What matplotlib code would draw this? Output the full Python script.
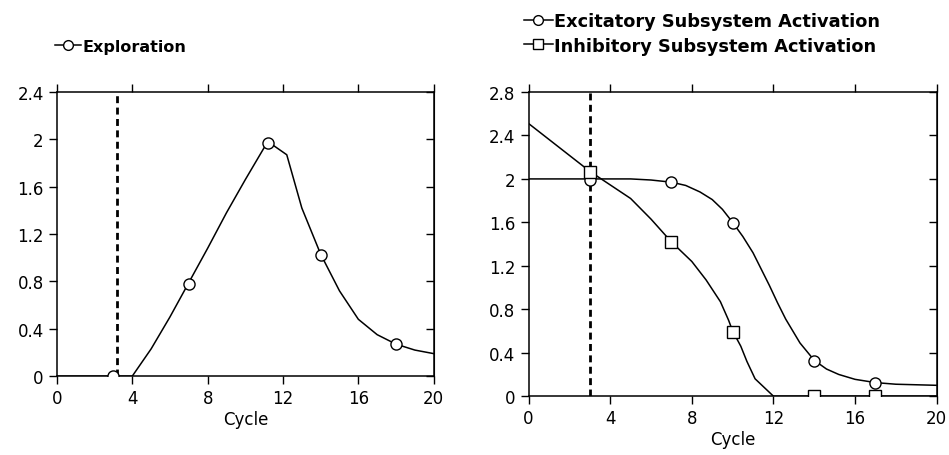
import numpy as np
import matplotlib
matplotlib.use("Agg")
import matplotlib.pyplot as plt
from matplotlib.lines import Line2D

# left panel: exploration
expl_x = [0, 3, 4, 5, 6, 7, 8, 9, 10, 11, 11.3, 12.2, 13, 14, 15, 16, 17, 18, 19, 20]
expl_y = [0, 0, 0, 0.23, 0.5, 0.79, 1.08, 1.38, 1.66, 1.93, 1.97, 1.87, 1.42, 1.03, 0.72, 0.48, 0.35, 0.27, 0.22, 0.19]
expl_mx = [3, 7, 11.2, 14, 18]
expl_my = [0, 0.78, 1.97, 1.02, 0.27]

# right panel: excitatory / inhibitory
exc_x = [0, 3, 5, 6, 7, 7.7, 8.4, 9, 9.5, 10, 10.5, 11, 11.4, 11.8, 12.2, 12.6, 13.3, 14, 14.6, 15.2, 16, 17, 18, 20]
exc_y = [2.0, 2.0, 2.0, 1.99, 1.97, 1.94, 1.88, 1.81, 1.72, 1.6, 1.47, 1.32, 1.17, 1.02, 0.86, 0.71, 0.49, 0.33, 0.25, 0.2, 0.155, 0.125, 0.11, 0.10]
exc_mx = [3, 7, 10, 14, 17]
exc_my = [1.99, 1.97, 1.59, 0.32, 0.125]

inh_x = [0, 3, 5, 6, 7, 8, 8.7, 9.4, 9.8, 10, 10.4, 10.7, 11.1, 12, 20]
inh_y = [2.51, 2.07, 1.82, 1.63, 1.42, 1.24, 1.07, 0.87, 0.7, 0.6, 0.46, 0.32, 0.16, 0, 0]
inh_mx = [3, 7, 10, 14, 17]
inh_my = [2.06, 1.42, 0.59, 0, 0]

xticks = [0, 4, 8, 12, 16, 20]
left_yticks = [0, 0.4, 0.8, 1.2, 1.6, 2, 2.4]
right_yticks = [0, 0.4, 0.8, 1.2, 1.6, 2, 2.4, 2.8]

def fmt(v):
    return "%g" % v

plt.rcParams['font.family'] = 'DejaVu Sans'
plt.rcParams['font.size'] = 12

fig = plt.figure(figsize=(9.49, 4.56), dpi=100)
ax1 = fig.add_axes([0.060, 0.173, 0.397, 0.623])
ax2 = fig.add_axes([0.557, 0.129, 0.430, 0.667])

mk = dict(marker='o', ms=8, mfc='white', mec='black', mew=1.0, ls='none', zorder=3)

ax1.plot(expl_x, expl_y, color='black', lw=1.1)
ax1.plot(expl_mx, expl_my, **mk)
ax1.plot([3.2, 3.2], [0, 2.4], color='black', lw=2, ls=(0, (2.5, 1.6)))

ax2.plot(exc_x, exc_y, color='black', lw=1.1)
ax2.plot(exc_mx, exc_my, **mk)
ax2.plot(inh_x, inh_y, color='black', lw=1.1)
ax2.plot(inh_mx, inh_my, **dict(mk, marker='s'))
ax2.plot([3, 3], [0, 2.8], color='black', lw=2, ls=(0, (2.5, 1.6)))

for ax, yt in ((ax1, left_yticks), (ax2, right_yticks)):
    ax.set_xlim(0, 20)
    ax.set_ylim(0, yt[-1])
    ax.set_xticks(xticks)
    ax.set_xticklabels([fmt(v) for v in xticks])
    ax.set_yticks(yt)
    ax.set_yticklabels([fmt(v) for v in yt])
    ax.tick_params(axis='x', direction='out', length=6, width=1, top=True, labelsize=12)
    ax.tick_params(axis='y', direction='out', length=6, width=1, labelsize=12)
    sec = ax.secondary_yaxis('right')
    sec.set_yticks(yt)
    sec.tick_params(direction='in', length=6, width=1, labelright=False)
    for s in ax.spines.values():
        s.set_linewidth(1.1)
    ax.set_xlabel("Cycle", fontsize=12, labelpad=2)

h_circ = Line2D([], [], color='black', lw=1.1, marker='o', ms=7, mfc='white', mec='black')
h_sq = Line2D([], [], color='black', lw=1.1, marker='s', ms=7, mfc='white', mec='black')

leg_kw = dict(frameon=False, loc='upper left', handlelength=1.6, handletextpad=0.1,
              borderpad=0, labelspacing=0.35, numpoints=1)
fig.legend([h_circ], ["Exploration"], bbox_to_anchor=(0.05, 0.93),
           prop=dict(size=11.5, weight='bold'), **leg_kw)
fig.legend([h_circ, h_sq], ["Excitatory Subsystem Activation", "Inhibitory Subsystem Activation"],
           bbox_to_anchor=(0.543, 0.99), prop=dict(size=12.8, weight='bold'), **leg_kw)

fig.savefig("out.png", dpi=100, facecolor='white')
